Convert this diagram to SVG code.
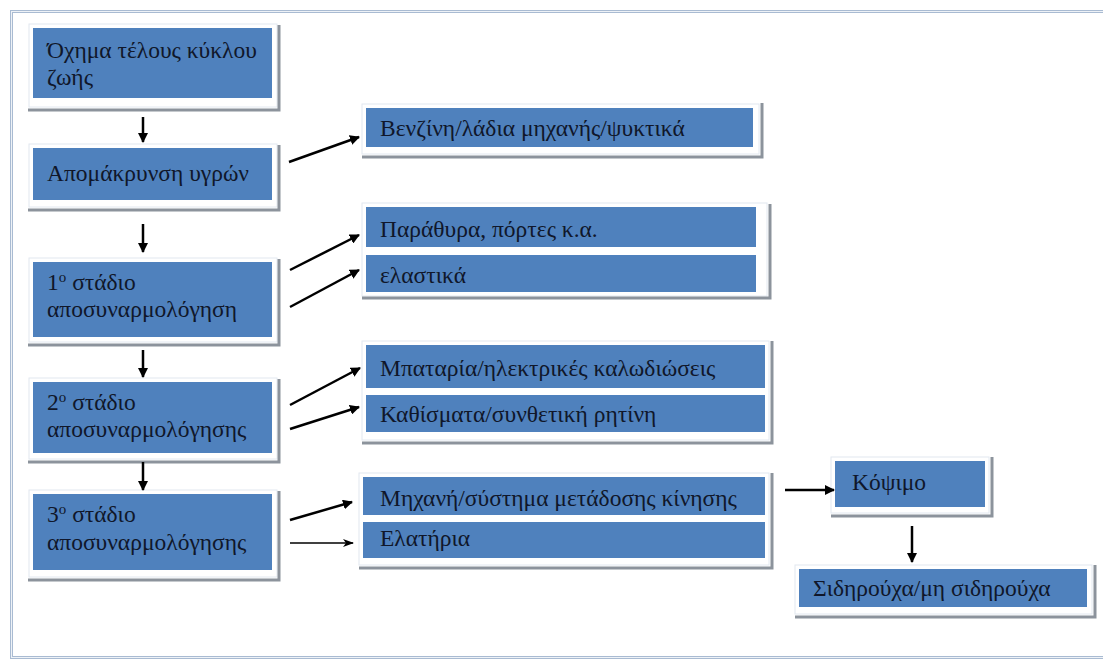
<svg xmlns="http://www.w3.org/2000/svg" width="1103" height="660" viewBox="0 0 1103 660">
<style>
.frame{fill:#ffffff;stroke:#e2e8f0;stroke-width:1}
.sh{stroke:#8c939c;stroke-width:3;fill:none}
.box{fill:#4f81bd}
.t{font-family:"Liberation Serif","DejaVu Serif",serif;font-size:23.5px;fill:#10172a}
.c{stroke:#000;stroke-width:2.5;fill:none;marker-end:url(#ah)}
.thin{stroke:#000;stroke-width:1.6;fill:none;marker-end:url(#ah2)}
</style>
<defs>
<marker id="ah" markerWidth="10" markerHeight="10" refX="9" refY="5" orient="auto" markerUnits="userSpaceOnUse" viewBox="0 0 10 10">
<path d="M0,0 L10,5 L0,10 Z" fill="#000"/>
</marker>
<marker id="ah2" markerWidth="11" markerHeight="8" refX="10" refY="4" orient="auto" markerUnits="userSpaceOnUse" viewBox="0 0 11 8">
<path d="M0,0 L11,4 L0,8 L3,4 Z" fill="#000"/>
</marker>
</defs>
<rect width="1103" height="660" fill="#ffffff"/>
<rect x="11.5" y="11.5" width="1110" height="646" fill="none" stroke="#a9bbd2" stroke-width="3"/>
<rect x="11.5" y="11.5" width="1110" height="646" fill="none" stroke="#eef2f7" stroke-width="1"/>

<g id="n1">
<rect class="frame" x="29" y="24" width="248" height="83"/>
<path class="sh" d="M279,25 V110 H28"/>
<rect class="box" x="33" y="28" width="239" height="70"/>
<text class="t" x="47" y="58">Όχημα τέλους κύκλου</text>
<text class="t" x="47" y="85">ζωής</text>
</g>
<g id="n2">
<rect class="frame" x="29" y="144" width="248" height="63"/>
<path class="sh" d="M279,145 V210 H28"/>
<rect class="box" x="33" y="148" width="239" height="52"/>
<text class="t" x="47" y="181">Απομάκρυνση υγρών</text>
</g>
<g id="n3">
<rect class="frame" x="29" y="258" width="248" height="84"/>
<path class="sh" d="M279,259 V345 H28"/>
<rect class="box" x="33" y="262" width="239" height="75"/>
<text class="t" x="47" y="290">1<tspan baseline-shift="super" font-size="15">o</tspan> στάδιο</text>
<text class="t" x="47" y="317">αποσυναρμολόγηση</text>
</g>
<g id="n4">
<rect class="frame" x="29" y="378" width="248" height="81"/>
<path class="sh" d="M279,379 V462 H28"/>
<rect class="box" x="33" y="382" width="239" height="71"/>
<text class="t" x="47" y="410">2<tspan baseline-shift="super" font-size="15">o</tspan> στάδιο</text>
<text class="t" x="47" y="437">αποσυναρμολόγησης</text>
</g>
<g id="n5">
<rect class="frame" x="29" y="490" width="248" height="87"/>
<path class="sh" d="M279,491 V580 H28"/>
<rect class="box" x="33" y="494" width="239" height="76"/>
<text class="t" x="47" y="522">3<tspan baseline-shift="super" font-size="15">o</tspan> στάδιο</text>
<text class="t" x="47" y="550">αποσυναρμολόγησης</text>
</g>

<g id="n6">
<rect class="frame" x="362" y="104" width="397" height="50"/>
<path class="sh" d="M762,103 V157 H362"/>
<rect class="box" x="366" y="108" width="387" height="39"/>
<text class="t" x="380" y="136">Βενζίνη/λάδια μηχανής/ψυκτικά</text>
</g>
<g id="n7">
<rect class="frame" x="362" y="203" width="405" height="93"/>
<path class="sh" d="M770,204 V298 H362"/>
<rect class="box" x="366" y="207" width="390" height="40"/>
<rect class="box" x="366" y="255" width="390" height="37"/>
<text class="t" x="380" y="237">Παράθυρα, πόρτες κ.α.</text>
<text class="t" x="380" y="283">ελαστικά</text>
</g>
<g id="n8">
<rect class="frame" x="362" y="341" width="407" height="99"/>
<path class="sh" d="M772,341 V443 H362"/>
<rect class="box" x="366" y="345" width="399" height="43"/>
<rect class="box" x="366" y="395" width="399" height="37"/>
<text class="t" x="380" y="376">Μπαταρία/ηλεκτρικές καλωδιώσεις</text>
<text class="t" x="380" y="422">Καθίσματα/συνθετική ρητίνη</text>
</g>
<g id="n9">
<rect class="frame" x="359" y="473" width="410" height="92"/>
<path class="sh" d="M772,473 V568 H359"/>
<rect class="box" x="363" y="477" width="402" height="38"/>
<rect class="box" x="363" y="522" width="402" height="36"/>
<text class="t" x="380" y="506">Μηχανή/σύστημα μετάδοσης κίνησης</text>
<text class="t" x="380" y="546">Ελατήρια</text>
</g>
<g id="n10">
<rect class="frame" x="831" y="457" width="158" height="56"/>
<path class="sh" d="M992,457 V516 H831"/>
<rect class="box" x="835" y="461" width="150" height="46"/>
<text class="t" x="852" y="490">Κόψιμο</text>
</g>
<g id="n11">
<rect class="frame" x="795" y="565" width="297" height="49"/>
<path class="sh" d="M1095,565 V617 H795"/>
<rect class="box" x="799" y="569" width="288" height="38"/>
<text class="t" x="813" y="596">Σιδηρούχα/μη σιδηρούχα</text>
</g>

<g id="connectors">
<path class="c" d="M143,117 V142"/>
<path class="c" d="M143,224 V252"/>
<path class="c" d="M143,350 V377"/>
<path class="c" d="M143,462 V490"/>
<path class="c" d="M289,162 L359,137"/>
<path class="c" d="M290,270 L359,235"/>
<path class="c" d="M290,307 L359,270"/>
<path class="c" d="M290,405 L360,368"/>
<path class="c" d="M290,429 L359,407"/>
<path class="c" d="M290,520 L352,502"/>
<path class="thin" d="M290,543 L353,543"/>
<path class="c" d="M785,490 L834,490"/>
<path class="c" d="M912,526 V562"/>
</g>
</svg>
